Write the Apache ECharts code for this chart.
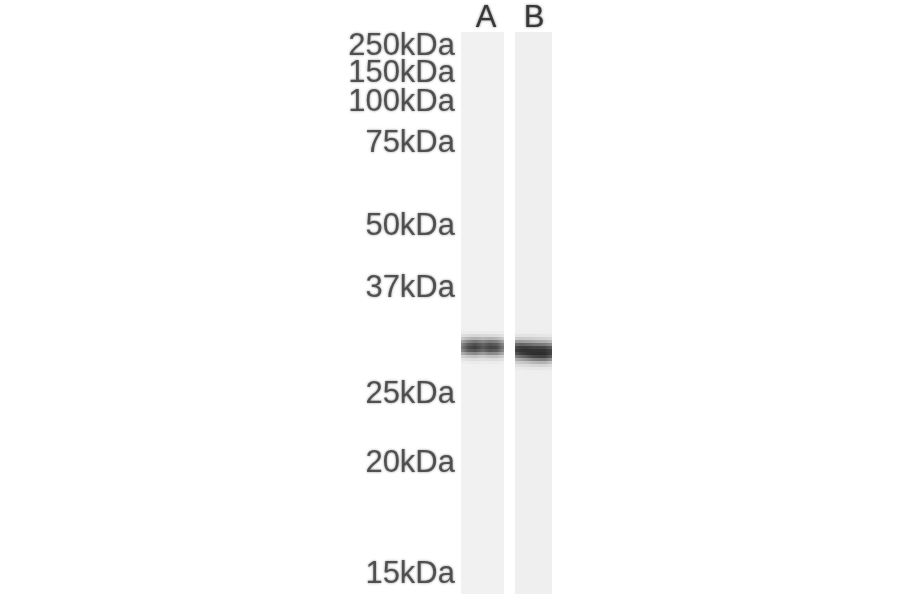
<!DOCTYPE html>
<html><head><meta charset="utf-8">
<style>html,body{margin:0;padding:0;background:#fff}#c{width:900px;height:594px}</style>
<script src="https://cdn.jsdelivr.net/npm/echarts@6/dist/echarts.min.js"></script>
</head><body><div id="c"></div>
<script>
const markerLabels = ['250kDa','150kDa','100kDa','75kDa','50kDa','37kDa','25kDa','20kDa','15kDa'];
const markerMigration = [46,73,102,143,226,288,394,463,574];
const laneNames = ['A','B'];
const laneCentres = [486,534];
const laneLeft = [461,515];
const laneRight = [504,552];
const laneTop = [32,32];
const laneBottom = [594,594];
const laneGrey = [241,239];
const bandRowMigration = [[328,331,334,337,340,343,346,349,352,355,358,361,364],
  [331,334,337,340,343,346,349,352,355,358,361,364,367,370]];
const bandColumns = [[461,468,475,483,490,497,504],[515,521,527,533,539,545,552]];
const bandA = [
 [241,241,241,241,241,241,241],
 [236,236,235,235,235,236,237],
 [224,218,214,218,218,220,228],
 [202,184,175,184,178,184,204],
 [170,135,118,135,122,132,170],
 [140,95,78,100,82,92,138],
 [130,78,62,88,68,75,128],
 [145,98,84,108,85,95,142],
 [180,148,136,155,136,142,174],
 [212,198,192,202,192,192,210],
 [230,224,220,224,220,220,228],
 [238,236,235,236,235,235,237],
 [241,241,240,240,240,240,241]];
const bandB = [
 [238,238,238,238,238,238,238],
 [228,228,228,228,230,230,232],
 [204,202,204,206,210,212,216],
 [160,155,160,166,172,176,188],
 [110,100,105,114,120,125,145],
 [78,60,60,66,68,72,96],
 [68,50,48,50,50,52,72],
 [88,62,52,46,46,46,70],
 [130,108,90,72,66,66,96],
 [178,162,148,130,122,122,150],
 [208,200,194,184,178,178,196],
 [226,222,220,214,212,212,220],
 [234,234,232,230,230,230,232],
 [239,239,238,238,238,238,238]];
const bands = [bandA,bandB];
const grey = g => `rgb(${g},${g},${g})`;
const laneData = laneNames.map((n,i)=>[laneLeft[i],laneRight[i],laneTop[i],laneBottom[i],laneGrey[i]]);
const bandData = [];
bands.forEach((m,l)=>m.forEach((row,r)=>bandData.push([l,r,bandRowMigration[l][r]])));
const chart = echarts.init(document.getElementById('c'),null,{renderer:'canvas'});
const txt = {color:'#383838',fontFamily:'Liberation Sans',fontSize:31,textShadowColor:'rgba(70,70,70,.8)',textShadowBlur:2.5};
chart.setOption({
  animation:false,backgroundColor:'#fff',
  grid:{left:458,right:338,top:32,bottom:0},
  xAxis:{type:'value',position:'top',min:458,max:562,splitLine:{show:false},axisLine:{show:false},axisTick:{show:false},
    axisLabel:{...txt,lineHeight:20,margin:4,hideOverlap:false,customValues:laneCentres,formatter:v=>laneNames[laneCentres.indexOf(v)]}},
  yAxis:{type:'value',inverse:true,min:32,max:594,splitLine:{show:false},axisLine:{show:false},axisTick:{show:false},axisLabel:{show:false}},
  series:[
   {type:'custom',silent:true,z:1,data:laneData,encode:{x:[0,1],y:[2,3]},clip:false,renderItem:(p,api)=>{
     const a=api.coord([api.value(0),api.value(2)]),b=api.coord([api.value(1),api.value(3)]);
     return {type:'rect',shape:{x:a[0],y:a[1],width:b[0]-a[0],height:b[1]-a[1]},style:{fill:grey(api.value(4))}};
   }},
   {type:'custom',silent:true,z:2,data:bandData,encode:{y:2},clip:false,renderItem:(p,api)=>{
     const l=api.value(0),r=api.value(1),y=api.value(2),cols=bandColumns[l],row=bands[l][r];
     const a=api.coord([cols[0],y]),b=api.coord([cols[cols.length-1],y+3.4]);
     const span=cols[cols.length-1]-cols[0];
     return {type:'rect',shape:{x:a[0],y:a[1],width:b[0]-a[0],height:b[1]-a[1]},
       style:{fill:new echarts.graphic.LinearGradient(0,0,1,0,cols.map((c,i)=>({offset:(c-cols[0])/span,color:grey(row[i])})))}};
   }},
   {type:'scatter',silent:true,z:3,clip:false,symbolSize:1,itemStyle:{color:'rgba(255,255,255,0)'},
    data:markerMigration.map((m,i)=>({name:markerLabels[i],value:[458,m]})),
    label:{...txt,show:true,position:'left',distance:2.5,formatter:p=>p.name}}
  ]
});
</script></body></html>
